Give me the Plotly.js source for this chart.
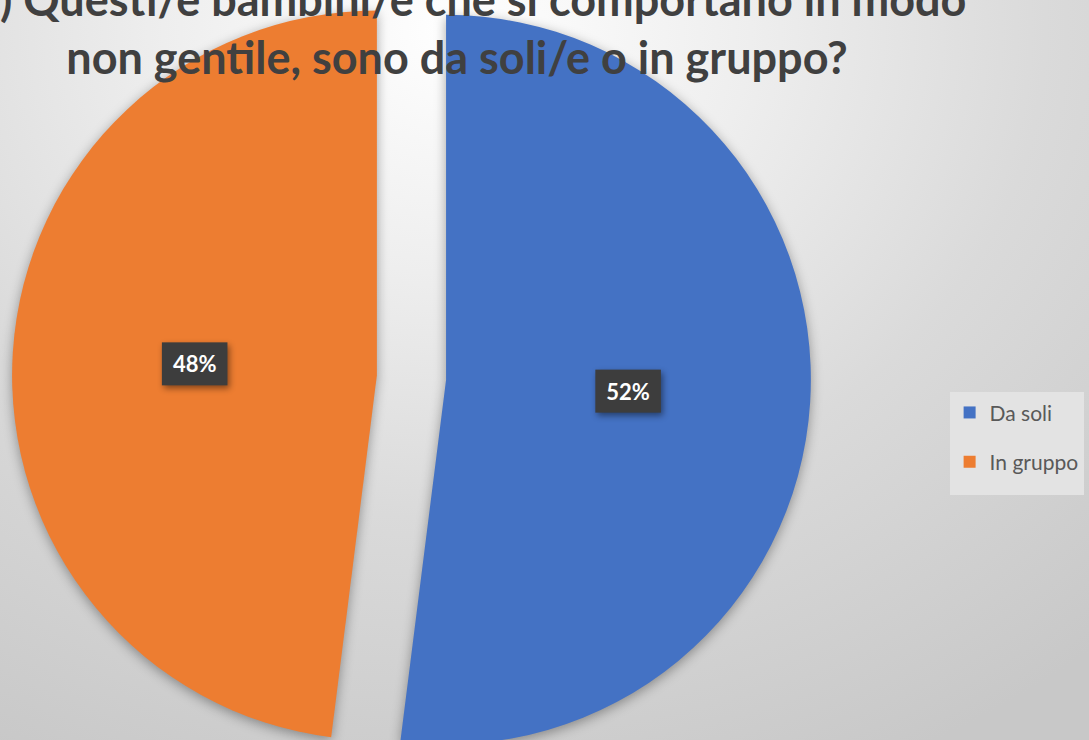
<!DOCTYPE html>
<html>
<head>
<meta charset="utf-8">
<script src="https://cdn.plot.ly/plotly-3.0.1.min.js"></script>
<style>
  html, body { margin: 0; padding: 0; width: 1089px; height: 740px; overflow: hidden; }
  #frame {
    position: relative; width: 1089px; height: 740px; overflow: hidden;
    background: radial-gradient(ellipse 90% 110% at 42% 4%, #ffffff 0%, #eeeeee 30%, #dadada 60%, #c8c8c8 100%);
  }
  #chart { position: absolute; left: 0; top: -30px; width: 1089px; height: 820px; }
  #chart .slice path.surface { filter: drop-shadow(0px 3px 6px rgba(0,0,0,0.35)); }
</style>
</head>
<body>
<div id="frame"><div id="chart"></div></div>
<script>
const categories = ["Da soli", "In gruppo"];
const values = [52, 48];
const sliceColors = ["#4472C4", "#ED7D31"];
const titleText = "10) Questi/e bambini/e che si comportano in modo<br>non gentile, sono da soli/e o in gruppo?";

const trace = {
  type: "pie",
  labels: categories,
  values: values,
  sort: false,
  direction: "clockwise",
  rotation: 0,
  pull: [0.095, 0.095],
  marker: { colors: sliceColors, line: { width: 0 } },
  textinfo: "percent",
  textposition: "inside",
  insidetextorientation: "horizontal",
  textfont: { family: "Lato, 'Open Sans', sans-serif", size: 22, color: "#ffffff", weight: "bold" },
  domain: { x: [0, 0.7557], y: [0.0159, 0.9902] },
  hoverinfo: "label+percent"
};

const layout = {
  width: 1089,
  height: 820,
  margin: { l: 0, r: 0, t: 0, b: 0, pad: 0 },
  paper_bgcolor: "rgba(0,0,0,0)",
  plot_bgcolor: "rgba(0,0,0,0)",
  font: { family: "Lato, 'Open Sans', sans-serif", color: "#595959" },
  title: {
    text: titleText,
    font: { family: "Lato, 'Open Sans', sans-serif", size: 45, color: "#404040", weight: "bold" },
    xref: "container", x: 0.4197, xanchor: "center",
    yref: "container", y: 0.944, yanchor: "top"
  },
  showlegend: true,
  legend: {
    x: 0.872, xanchor: "left",
    y: 0.485, yanchor: "top",
    bgcolor: "#e3e3e3",
    itemwidth: 30,
    font: { family: "Lato, 'Open Sans', sans-serif", size: 21, color: "#595959" },
    itemclick: false
  }
};

Plotly.newPlot("chart", [trace], layout, { displayModeBar: false, staticPlot: true }).then(function (gd) {
  const ns = "http://www.w3.org/2000/svg";
  // dark label boxes behind the pie's own percentage texts
  gd.querySelectorAll("g.slicetext").forEach(function (g) {
    const t = g.querySelector("text");
    if (!t) return;
    const bb = t.getBBox();
    const padX = 11, padY = 8;
    const rect = document.createElementNS(ns, "rect");
    rect.setAttribute("x", bb.x - padX);
    rect.setAttribute("y", bb.y - padY);
    rect.setAttribute("width", bb.width + 2 * padX);
    rect.setAttribute("height", bb.height + 2 * padY);
    rect.setAttribute("fill", "#3d3d3d");
    rect.setAttribute("style", "filter: drop-shadow(2px 3px 3px rgba(0,0,0,0.45));");
    const tf = t.getAttribute("transform");
    if (tf) rect.setAttribute("transform", tf);
    g.insertBefore(rect, t);
  });
  // wider spacing between legend entries
  const extra = 19;
  const items = gd.querySelectorAll(".legend .traces");
  items.forEach(function (it, i) {
    const tf = it.getAttribute("transform") || "";
    const m = tf.match(/translate\(([-\d.]+)[ ,]+([-\d.]+)\)/);
    if (m) it.setAttribute("transform", "translate(" + m[1] + "," + (parseFloat(m[2]) + i * extra) + ")");
  });
  gd.querySelectorAll(".legend .scrollbox, .legend").forEach(function (el) {
    el.removeAttribute("clip-path");
  });
  const bg = gd.querySelector(".legend .bg");
  if (bg) {
    const h = parseFloat(bg.getAttribute("height"));
    bg.setAttribute("height", h + extra * (items.length - 1) + 13);
  }
});
</script>
</body>
</html>
